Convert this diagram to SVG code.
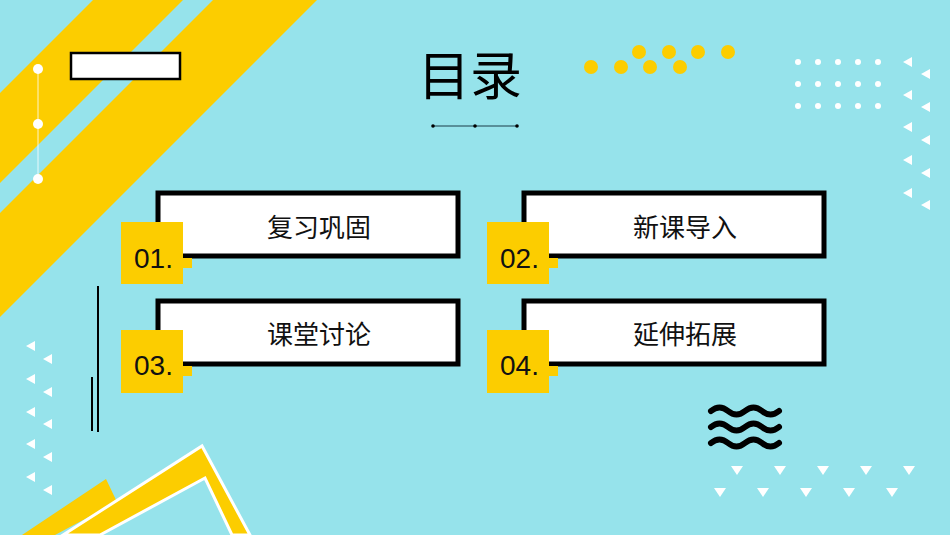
<svg xmlns="http://www.w3.org/2000/svg" width="950" height="535" viewBox="0 0 950 535">
<style>
.y{fill:#fccd00}
.w{fill:#fff}
.box{fill:#fff;stroke:#000;stroke-width:5}
.t{font-family:"Noto Sans CJK SC","Liberation Sans",sans-serif;font-size:26px;fill:#111;text-anchor:middle}
.n{font-family:"Liberation Sans","Noto Sans",sans-serif;font-size:28px;fill:#111}
.wave{fill:none;stroke:#000;stroke-width:6;stroke-linecap:round}
</style>
<defs>
<polygon id="tl" points="0,0 9,-5 9,5" fill="#fff"/>
<polygon id="td" points="-6,0 6,0 0,9" fill="#fff"/>
</defs>
<rect width="950" height="535" fill="#96e3eb"/>
<g id="decor">
<polygon class="y" points="93,0 183,0 0,183 0,93"/>
<polygon class="y" points="213,0 317,0 0,317 0,213"/>
<line x1="38" y1="69" x2="38" y2="179" stroke="#fff" stroke-width="0.8"/>
<circle class="w" cx="38" cy="69" r="5"/><circle class="w" cx="38" cy="124" r="5"/><circle class="w" cx="38" cy="179" r="5"/>
<rect x="71" y="53" width="109" height="26" fill="#fff" stroke="#000" stroke-width="2.5"/>
<polygon class="y" points="22,535 106,479 117,502 55,535"/>
<polygon class="y" points="63,535 202,446 250,535 232,535 205,478 100,535" stroke="#fff" stroke-width="3" stroke-linejoin="miter"/>
<line x1="98" y1="286" x2="98" y2="432" stroke="#000" stroke-width="2"/>
<line x1="92" y1="377" x2="92" y2="431" stroke="#000" stroke-width="2"/>
<g class="y">
<circle cx="639" cy="52" r="7"/><circle cx="669" cy="52" r="7"/><circle cx="698" cy="52" r="7"/><circle cx="728" cy="52" r="7"/>
<circle cx="591" cy="67" r="7"/><circle cx="621" cy="67" r="7"/><circle cx="650" cy="67" r="7"/><circle cx="680" cy="67" r="7"/>
</g>
<g class="w">
<circle cx="798" cy="62" r="3"/><circle cx="818" cy="62" r="3"/><circle cx="838" cy="62" r="3"/><circle cx="858" cy="62" r="3"/><circle cx="878" cy="62" r="3"/>
<circle cx="798" cy="84" r="3"/><circle cx="818" cy="84" r="3"/><circle cx="838" cy="84" r="3"/><circle cx="858" cy="84" r="3"/><circle cx="878" cy="84" r="3"/>
<circle cx="798" cy="106" r="3"/><circle cx="818" cy="106" r="3"/><circle cx="838" cy="106" r="3"/><circle cx="858" cy="106" r="3"/><circle cx="878" cy="106" r="3"/>
</g>
<use href="#tl" x="903" y="62"/><use href="#tl" x="921" y="74"/>
<use href="#tl" x="903" y="95"/><use href="#tl" x="921" y="107"/>
<use href="#tl" x="903" y="127"/><use href="#tl" x="921" y="140"/>
<use href="#tl" x="903" y="160"/><use href="#tl" x="921" y="173"/>
<use href="#tl" x="903" y="193"/><use href="#tl" x="921" y="205"/>
<use href="#tl" x="26" y="346"/><use href="#tl" x="43" y="359"/>
<use href="#tl" x="26" y="379"/><use href="#tl" x="43" y="392"/>
<use href="#tl" x="26" y="412"/><use href="#tl" x="43" y="424"/>
<use href="#tl" x="26" y="444"/><use href="#tl" x="43" y="457"/>
<use href="#tl" x="26" y="477"/><use href="#tl" x="43" y="490"/>
<use href="#td" x="737" y="466"/><use href="#td" x="780" y="466"/><use href="#td" x="823" y="466"/><use href="#td" x="866" y="466"/><use href="#td" x="909" y="466"/>
<use href="#td" x="720" y="488"/><use href="#td" x="763" y="488"/><use href="#td" x="806" y="488"/><use href="#td" x="849" y="488"/><use href="#td" x="892" y="488"/>
<path class="wave" d="M711,411 q8.5,-7 17,0 t17,0 t17,0 t17,0"/>
<path class="wave" d="M711,427 q8.5,-7 17,0 t17,0 t17,0 t17,0"/>
<path class="wave" d="M711,443 q8.5,-7 17,0 t17,0 t17,0 t17,0"/>
</g>
<g id="title">
<text x="470" y="95" font-family="Noto Sans CJK SC,sans-serif" font-size="52" text-anchor="middle" fill="#000">目录</text>
<line x1="433" y1="126" x2="517" y2="126" stroke="#1a3c48" stroke-width="1"/>
<circle cx="433" cy="126" r="1.8"/><circle cx="475" cy="126" r="1.8"/><circle cx="517" cy="126" r="1.8"/>
</g>
<g id="item1">
<rect class="box" x="158" y="193" width="300" height="63"/>
<rect class="y" x="121" y="222" width="62" height="62"/><rect class="y" x="183" y="258" width="9" height="10"/>
<text class="t" x="319" y="237">复习巩固</text><text class="n" x="134" y="268">01.</text>
</g>
<g id="item2">
<rect class="box" x="524" y="193" width="300" height="63"/>
<rect class="y" x="487" y="222" width="62" height="62"/><rect class="y" x="549" y="258" width="9" height="10"/>
<text class="t" x="685" y="237">新课导入</text><text class="n" x="500" y="268">02.</text>
</g>
<g id="item3">
<rect class="box" x="158" y="301" width="300" height="63"/>
<rect class="y" x="121" y="330" width="62" height="63"/><rect class="y" x="183" y="366" width="9" height="10"/>
<text class="t" x="319" y="344">课堂讨论</text><text class="n" x="134" y="375">03.</text>
</g>
<g id="item4">
<rect class="box" x="524" y="301" width="300" height="63"/>
<rect class="y" x="487" y="330" width="62" height="63"/><rect class="y" x="549" y="366" width="9" height="10"/>
<text class="t" x="685" y="344">延伸拓展</text><text class="n" x="500" y="375">04.</text>
</g>
</svg>
